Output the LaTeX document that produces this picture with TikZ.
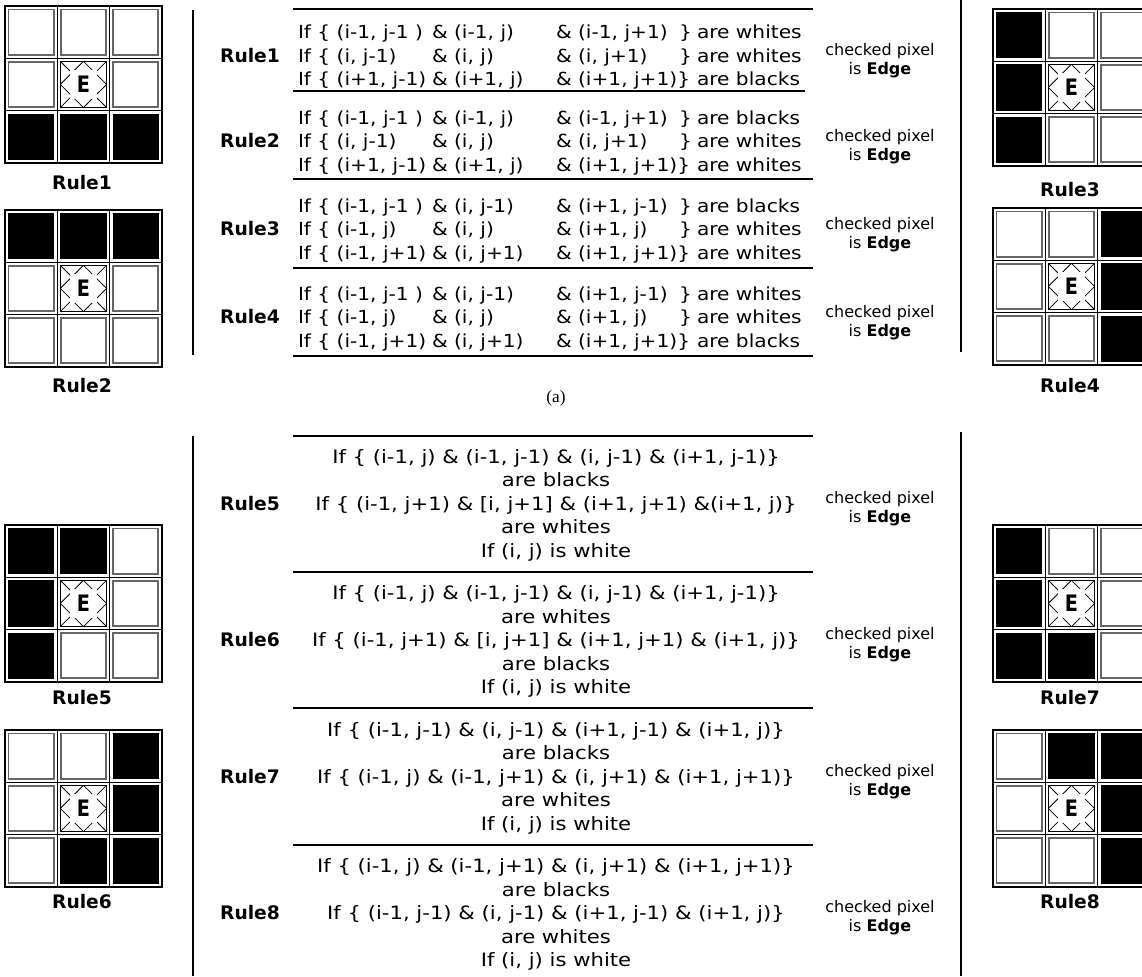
\documentclass[tikz,border=0pt]{standalone}
\usepackage{fontspec}
\setmainfont{DejaVu Sans}
\newfontfamily\topfont[FakeStretch=1.12]{DejaVu Sans}
\newfontfamily\botfont[FakeStretch=1.15]{DejaVu Sans}
\newfontfamily\efont[FakeStretch=0.85]{DejaVu Sans}
\newfontfamily\capfont{Liberation Serif}
\begin{document}
\begin{tikzpicture}[x=0.75pt,y=-0.75pt,
  ttxt/.style={inner sep=0pt,outer sep=0pt,anchor=base west,font=\topfont\fontsize{13.5}{16}\selectfont},
  btxt/.style={inner sep=0pt,outer sep=0pt,anchor=base,font=\botfont\fontsize{13.8}{16}\selectfont},
  ctxt/.style={inner sep=0pt,outer sep=0pt,anchor=base,font=\fontsize{12}{14}\selectfont},
  lbl/.style={inner sep=0pt,anchor=base,font=\fontsize{14}{16}\selectfont\bfseries},
  glbl/.style={inner sep=0pt,anchor=base,font=\fontsize{14}{16}\selectfont\bfseries},
  hrule/.style={line width=2pt},
  vrule/.style={line width=1.8pt},
  lattice/.style={line width=1pt,black},
  wcell/.style={line width=1.4pt,draw=black!60},
  bcell/.style={fill=black},
  ecell/.style={line width=0.8pt,draw=black},
  hatch/.style={line width=0.6pt,black},
  etxt/.style={inner sep=0pt,font=\efont\fontsize{17}{17}\selectfont\bfseries},
  capt/.style={inner sep=0pt,font=\capfont\fontsize{13}{14}\selectfont}
]
\useasboundingbox (0,0) rectangle (1142,976);
\def\cs{52.3}
% #1 x, #2 y, #3 nine states: 0 white, 1 black, 2 edge pixel
\newcommand\RuleGridX[3]{%
  \begin{scope}[shift={(#1,#2)}]
    \foreach \v [count=\k from 0] in {#3} {
      \pgfmathtruncatemacro\cc{mod(\k,3)}
      \pgfmathtruncatemacro\rr{div(\k,3)}
      \pgfmathsetmacro\xa{\cc*\cs}
      \pgfmathsetmacro\ya{\rr*\cs}
      \draw[lattice] (\xa,\ya) rectangle ++(\cs,\cs);
      \ifnum\v=0
        \draw[wcell] (\xa+3.5,\ya+3.5) rectangle ++(\cs-7,\cs-7);
      \fi
      \ifnum\v=1
        \fill[bcell] (\xa+3,\ya+3) rectangle ++(\cs-6,\cs-6);
      \fi
      \ifnum\v=2
        \begin{scope}
          \clip (\xa+3,\ya+3) rectangle ++(\cs-6,\cs-6);
          \foreach \n in {-2,...,4} {
            \draw[hatch] (\xa+3+\n*23.15,\ya+3) -- ++(46.3,46.3);
            \draw[hatch] (\xa+3+\n*23.15,\ya+3) -- ++(-46.3,46.3);
          }
          \fill[white] (\xa+13,\ya+12) rectangle ++(\cs-26,\cs-24);
        \end{scope}
        \draw[ecell] (\xa+3,\ya+3) rectangle ++(\cs-6,\cs-6);
        \node[etxt] at (\xa+\cs/2,\ya+\cs/2) {E};
      \fi
    }
  \end{scope}}

% ---------- grids ----------
\RuleGridX{5}{6}{0,0,0,0,2,0,1,1,1}
\node[glbl] (g1) at (82,189) {Rule1};
\RuleGridX{5}{210}{1,1,1,0,2,0,0,0,0}
\node[glbl] (g2) at (82,392) {Rule2};
\RuleGridX{993}{9}{1,0,0,1,2,0,1,0,0}
\node[glbl] (g3) at (1070,196) {Rule3};
\RuleGridX{993}{208}{0,0,1,0,2,1,0,0,1}
\node[glbl] (g4) at (1070,392) {Rule4};

\RuleGridX{5}{525}{1,1,0,1,2,0,1,0,0}
\node[glbl] (g5) at (82,704) {Rule5};
\RuleGridX{5}{730}{0,0,1,0,2,1,0,1,1}
\node[glbl] (g6) at (82,908) {Rule6};
\RuleGridX{993}{525}{1,0,0,1,2,0,1,1,0}
\node[glbl] (g7) at (1070,704) {Rule7};
\RuleGridX{993}{730}{0,1,1,0,2,1,0,0,1}
\node[glbl] (g8) at (1070,908) {Rule8};

% ---------- vertical separators ----------
\coordinate (vl1a) at (193,10);  \coordinate (vl1b) at (193,355);
\coordinate (vr1a) at (961,0);   \coordinate (vr1b) at (961,352);
\coordinate (vl2a) at (193,436); \coordinate (vl2b) at (193,976);
\coordinate (vr2a) at (961,432); \coordinate (vr2b) at (961,976);
\draw[vrule] (vl1a) -- (vl1b);
\draw[vrule] (vr1a) -- (vr1b);
\draw[vrule] (vl2a) -- (vl2b);
\draw[vrule] (vr2a) -- (vr2b);

% ---------- top table ----------
\foreach \y/\xe in {9/813,91/805,179/813,268/813,356/813}
  \draw[hrule] (293,\y) -- (\xe,\y);

\newcommand\TopRowX[5]{%
  \node[ttxt] at (298,#1) {#2};
  \node[ttxt] at (432,#1) {\&~#3};
  \node[ttxt] at (556,#1) {\&~#4};
  \node[ttxt] at (697,#1) {are #5};}
\newcommand\CloseBrX[1]{\node[ttxt] at (679,#1) {\}};}
% #1 first baseline, #2 name, #3 node name
\newcommand\TopSide[3]{%
  \node[lbl] (#3) at (250,#1+23.5) {#2};
  \node[ctxt] at (880,#1+17) {checked pixel};
  \node[ctxt] at (880,#1+36) {is \textbf{Edge}};}

% Rule1
\TopSide{38.5}{Rule1}{r1}
\TopRowX{38.5}{If \{ (i-1, j-1 )}{(i-1, j)}{(i-1, j+1)}{whites}\CloseBrX{38.5}
\TopRowX{62}{If \{ (i, j-1)}{(i, j)}{(i, j+1)}{whites}\CloseBrX{62}
\TopRowX{85.5}{If \{ (i+1, j-1)}{(i+1, j)}{(i+1, j+1)\}}{blacks}
% Rule2
\TopSide{124}{Rule2}{r2}
\TopRowX{124}{If \{ (i-1, j-1 )}{(i-1, j)}{(i-1, j+1)}{blacks}\CloseBrX{124}
\TopRowX{147.5}{If \{ (i, j-1)}{(i, j)}{(i, j+1)}{whites}\CloseBrX{147.5}
\TopRowX{171}{If \{ (i+1, j-1)}{(i+1, j)}{(i+1, j+1)\}}{whites}
% Rule3
\TopSide{212}{Rule3}{r3}
\TopRowX{212}{If \{ (i-1, j-1 )}{(i, j-1)}{(i+1, j-1)}{blacks}\CloseBrX{212}
\TopRowX{235.5}{If \{ (i-1, j)}{(i, j)}{(i+1, j)}{whites}\CloseBrX{235.5}
\TopRowX{259}{If \{ (i-1, j+1)}{(i, j+1)}{(i+1, j+1)\}}{whites}
% Rule4
\TopSide{300}{Rule4}{r4}
\TopRowX{300}{If \{ (i-1, j-1 )}{(i, j-1)}{(i+1, j-1)}{whites}\CloseBrX{300}
\TopRowX{323.5}{If \{ (i-1, j)}{(i, j)}{(i+1, j)}{whites}\CloseBrX{323.5}
\TopRowX{347}{If \{ (i-1, j+1)}{(i, j+1)}{(i+1, j+1)\}}{blacks}

\node[capt] (cap) at (556,398) {(a)};

% ---------- bottom table ----------
\foreach \y in {436,572,708,845}
  \draw[hrule] (293,\y) -- (813,\y);

% #1 first baseline
\newcommand\BlockX[7]{%
  \node[lbl] (#7) at (250,#1+47) {#2};
  \node[btxt] at (556,#1) {#3};
  \node[btxt] at (556,#1+23.5) {#4};
  \node[btxt] at (556,#1+47) {#5};
  \node[btxt] at (556,#1+70.5) {#6};
  \node[btxt] at (556,#1+94) {If (i, j) is white};
  \node[ctxt] at (880,#1+40) {checked pixel};
  \node[ctxt] at (880,#1+59) {is \textbf{Edge}};}

\BlockX{463}{Rule5}{If \{ (i-1, j) \& (i-1, j-1) \& (i, j-1) \& (i+1, j-1)\}}{are blacks}{If \{ (i-1, j+1) \& [i, j+1] \& (i+1, j+1) \&(i+1, j)\}}{are whites}{r5}
\BlockX{599.5}{Rule6}{If \{ (i-1, j) \& (i-1, j-1) \& (i, j-1) \& (i+1, j-1)\}}{are whites}{If \{ (i-1, j+1) \& [i, j+1] \& (i+1, j+1) \& (i+1, j)\}}{are blacks}{r6}
\BlockX{736}{Rule7}{If \{ (i-1, j-1) \& (i, j-1) \& (i+1, j-1) \& (i+1, j)\}}{are blacks}{If \{ (i-1, j) \& (i-1, j+1) \& (i, j+1) \& (i+1, j+1)\}}{are whites}{r7}
\BlockX{872.5}{Rule8}{If \{ (i-1, j) \& (i-1, j+1) \& (i, j+1) \& (i+1, j+1)\}}{are blacks}{If \{ (i-1, j-1) \& (i, j-1) \& (i+1, j-1) \& (i+1, j)\}}{are whites}{r8}
\end{tikzpicture}
\end{document}
